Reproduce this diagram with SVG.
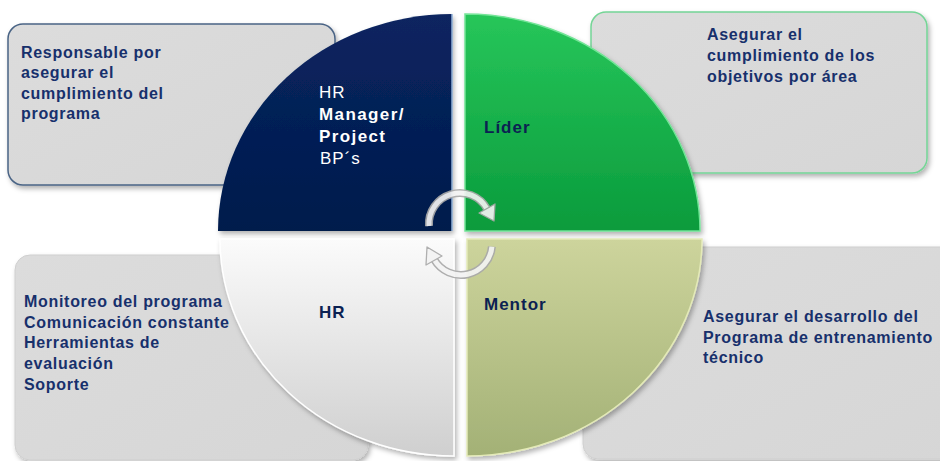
<svg xmlns="http://www.w3.org/2000/svg" width="940" height="461" viewBox="0 0 940 461">
<style>
.box{fill:url(#gBox);}
.bt{font-family:"Liberation Sans",Arial,sans-serif;font-weight:bold;font-size:16px;letter-spacing:0.7px;fill:#17306c;}
.ql{font-family:"Liberation Sans",Arial,sans-serif;font-size:17px;letter-spacing:1px;}
.qn{fill:#0b2152;font-weight:bold;}
.arc{fill:none;stroke:#a9a9a9;stroke-width:8;}
.arcIn{fill:none;stroke:#f3f3f3;stroke-width:5;}
.head{fill:#f3f3f3;stroke:#a9a9a9;stroke-width:1.3;stroke-linejoin:round;}
</style>
<defs>
<linearGradient id="gBox" x1="0" y1="0" x2="1" y2="1">
<stop offset="0" stop-color="#dcdcdc"/><stop offset="1" stop-color="#d6d6d6"/>
</linearGradient>
<linearGradient id="gNavy" x1="0" y1="0" x2="0" y2="1">
<stop offset="0" stop-color="#0a2560"/><stop offset="1" stop-color="#001a4c"/>
</linearGradient>
<linearGradient id="gGreen" x1="0" y1="0" x2="0" y2="1">
<stop offset="0" stop-color="#27c65a"/><stop offset="1" stop-color="#0a9b3c"/>
</linearGradient>
<linearGradient id="gWhite" x1="0" y1="0" x2="0" y2="1">
<stop offset="0" stop-color="#fbfbfb"/><stop offset="1" stop-color="#cfcfcf"/>
</linearGradient>
<linearGradient id="gOlive" x1="0" y1="0" x2="0" y2="1">
<stop offset="0" stop-color="#cdd49c"/><stop offset="1" stop-color="#a3b176"/>
</linearGradient>
<filter id="sh" x="-10%" y="-10%" width="125%" height="130%">
<feDropShadow dx="2" dy="3" stdDeviation="2.5" flood-color="#000" flood-opacity="0.3"/>
</filter>
</defs>

<g id="box-tl" filter="url(#sh)">
<rect class="box" x="8" y="24" width="327" height="161" rx="15" stroke="#4a6485" stroke-width="1.5"/>
</g>
<g id="box-tr" filter="url(#sh)">
<rect class="box" x="591" y="12" width="336" height="161" rx="15" stroke="#74d596" stroke-width="1.5"/>
</g>
<g id="box-bl" filter="url(#sh)">
<rect class="box" x="15" y="255" width="353" height="205" rx="15" stroke="#cfcfcf" stroke-width="1"/>
</g>
<g id="box-br" filter="url(#sh)">
<rect class="box" x="583" y="247" width="380" height="212" rx="15" stroke="#cfcfcf" stroke-width="1"/>
</g>

<g id="q-manager">
<path d="M452,231 L218,231 A234,217 0 0 1 452,14 Z" fill="url(#gNavy)" filter="url(#sh)"/>
<path d="M452,14 L452,231" stroke="#8fb0d8" stroke-width="1.5"/>
</g>
<g id="q-lider">
<path d="M465,231 L465,14 A235,217 0 0 1 700,231 Z" fill="url(#gGreen)" stroke="#72e496" stroke-width="1.5" filter="url(#sh)"/>
</g>
<g id="q-hr">
<path d="M454,239 L454,456 A234,217 0 0 1 220,239 Z" fill="url(#gWhite)" stroke="#ffffff" stroke-width="1.5" filter="url(#sh)"/>
</g>
<g id="q-mentor">
<path d="M467,239 L702,239 A235,217 0 0 1 467,456 Z" fill="url(#gOlive)" stroke="#e4eab8" stroke-width="1.5" filter="url(#sh)"/>
</g>

<g id="connectors" opacity="0.92">
<path class="arc" d="M429,226 A31,31 0 0 1 486.8,208.5"/>
<path class="arcIn" d="M429,226 A31,31 0 0 1 486.8,208.5"/>
<polygon class="head" points="495,204 479,213 494,221"/>
<path class="arc" d="M491.9,246.7 A31,31 0 0 1 434.2,259.5"/>
<path class="arcIn" d="M491.9,246.7 A31,31 0 0 1 434.2,259.5"/>
<polygon class="head" points="442,256 426,265 427,247"/>
</g>

<g id="text-tl">
<text class="bt" x="21" y="58">Responsable por</text>
<text class="bt" x="21" y="78">asegurar el</text>
<text class="bt" x="21" y="99">cumplimiento del</text>
<text class="bt" x="21" y="119">programa</text>
</g>
<g id="text-tr">
<text class="bt" x="707" y="40">Asegurar el</text>
<text class="bt" x="707" y="61">cumplimiento de los</text>
<text class="bt" x="707" y="82">objetivos por área</text>
</g>
<g id="text-bl">
<text class="bt" x="24" y="307">Monitoreo del programa</text>
<text class="bt" x="24" y="328">Comunicación constante</text>
<text class="bt" x="24" y="348">Herramientas de</text>
<text class="bt" x="24" y="369">evaluación</text>
<text class="bt" x="24" y="390">Soporte</text>
</g>
<g id="text-br">
<text class="bt" x="703" y="322">Asegurar el desarrollo del</text>
<text class="bt" x="703" y="343">Programa de entrenamiento</text>
<text class="bt" x="703" y="363">técnico</text>
</g>

<g id="label-manager" class="ql" fill="#ffffff">
<text x="319" y="98">HR</text>
<text x="319" y="120" font-weight="bold" letter-spacing="1.4">Manager/</text>
<text x="319" y="142" font-weight="bold" letter-spacing="1.4">Project</text>
<text x="320" y="164">BP´s</text>
</g>
<text id="label-lider" class="ql qn" x="484" y="133">Líder</text>
<text id="label-hr" class="ql qn" x="319" y="318" font-size="18">HR</text>
<text id="label-mentor" class="ql qn" x="484" y="310" font-size="18">Mentor</text>
</svg>
